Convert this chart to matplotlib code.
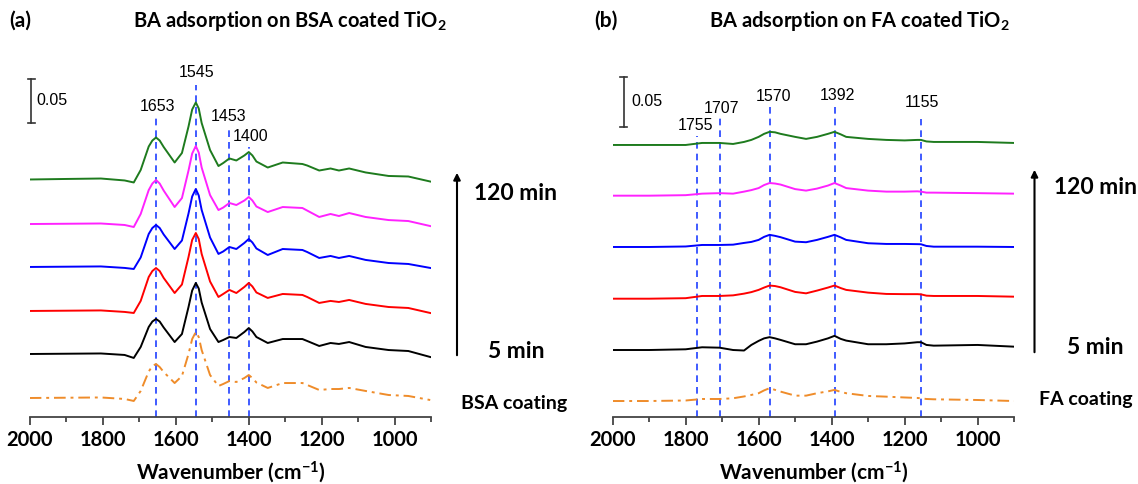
import matplotlib
matplotlib.use("Agg")
import matplotlib.pyplot as plt

plt.rcParams['font.family'] = ['Liberation Sans', 'DejaVu Sans']
plt.rcParams['mathtext.fontset'] = 'custom'
plt.rcParams['mathtext.rm'] = 'Lato:bold'
plt.rcParams['mathtext.default'] = 'regular'

# ---- panel (a): BA on BSA coated TiO2, relative absorbance in mAbs ----
wn_a = [2000, 1900, 1805, 1740, 1715, 1696, 1674, 1664, 1654, 1644, 1633, 1603, 1583,
        1565, 1555, 1545, 1537, 1529, 1506, 1483, 1470, 1453, 1434, 1412, 1400, 1390,
        1379, 1348, 1307, 1253, 1240, 1207, 1176, 1153, 1125, 1080, 1017, 963, 903]
green_a = [0, 0.6, 1.1, -1.1, -3.4, 10.8, 37.5, 44.3, 47.7, 44.3, 36.9, 19.3, 30.1, 60.2, 79.5,
           87.5, 80.7, 64.2, 33.5, 15.3, 18.7, 23.9, 21.6, 27.3, 31.2, 27.3, 20.4, 13.6, 19.3,
           17.6, 15.9, 10.2, 12.5, 10.2, 12.5, 8.0, 4.0, 3.4, -2.3]
magenta_a = [0, 0.3, 0.6, -1.1, -3.4, 11.4, 38.6, 46.0, 50.0, 46.0, 38.0, 19.3, 29.5, 60.8, 80.1,
             88.6, 81.2, 64.2, 32.9, 15.9, 18.7, 23.9, 21.6, 26.7, 30.7, 26.7, 19.9, 13.6, 19.3,
             18.2, 15.3, 8.0, 11.4, 9.1, 12.5, 8.0, 4.5, 3.4, -2.3]
blue_a = [0, 0.3, 0.6, -1.1, -2.3, 10.8, 37.5, 44.3, 47.7, 44.3, 36.9, 20.4, 30.1, 60.8, 80.1,
          88.6, 81.2, 64.8, 33.5, 14.8, 17.6, 22.7, 20.4, 27.3, 31.8, 27.8, 21.0, 13.6, 20.4,
          19.3, 17.0, 10.2, 12.5, 10.2, 12.5, 8.0, 4.5, 3.4, -1.1]
red_a = [0, 0.3, 0.6, -1.1, -2.3, 11.4, 38.6, 45.4, 48.8, 45.4, 37.5, 20.4, 30.1, 61.3, 80.7,
         88.6, 81.8, 64.8, 33.5, 15.9, 19.3, 23.9, 20.4, 27.3, 31.8, 27.8, 21.0, 14.8, 19.3,
         18.2, 15.9, 9.1, 11.4, 10.2, 12.5, 8.0, 4.5, 3.4, -2.3]
black_a = [0, 0.3, 0.6, -1.1, -4.5, 8.0, 30.7, 36.9, 39.8, 36.9, 30.1, 13.6, 22.7, 53.4, 72.1,
           80.7, 74.4, 58.5, 28.4, 13.6, 15.9, 19.3, 18.2, 25.0, 29.5, 25.6, 19.3, 12.5, 17.0,
           17.0, 14.8, 9.1, 12.5, 11.4, 13.6, 8.0, 4.5, 3.4, -3.4]
coat_a = [0, 0.3, 0.6, -1.1, -3.4, 8.0, 30.1, 36.3, 38.6, 35.2, 29.5, 17.0, 25.0, 50.0, 67.0,
          75.0, 69.3, 54.5, 26.1, 13.6, 15.9, 19.3, 18.2, 22.7, 26.1, 22.7, 17.6, 11.4, 17.0,
          17.0, 14.8, 9.1, 10.2, 10.2, 11.4, 8.0, 3.4, 2.3, -2.3]
offsets_a = [0.2699, 0.2193, 0.1705, 0.1205, 0.0716, 0.0216]
peaks_a = [1653, 1545, 1453, 1400]

# ---- panel (b): BA on FA coated TiO2 ----
wn_b = [2000, 1900, 1800, 1755, 1707, 1670, 1640, 1620, 1600, 1585, 1570, 1555, 1540, 1500,
        1470, 1440, 1410, 1392, 1375, 1360, 1300, 1250, 1200, 1165, 1155, 1140, 1120, 1000, 900]
green_b = [0, 0, 0, 2, 2, 1, 3, 5, 8, 11, 13, 12.5, 11, 8, 6, 8, 11, 13, 10.5, 8, 6, 5, 4.5, 5,
           5, 3.5, 3, 3, 2]
magenta_b = [0, 0, 0.5, 2, 2.5, 2, 4, 5.5, 7.5, 10.5, 12.5, 12, 11, 6.5, 5, 7, 10, 12.5, 10,
             7.5, 5, 4, 4, 4.3, 4, 3, 3, 2.5, 2]
blue_b = [0, 0, 0.5, 2, 2, 2.3, 4, 5, 7, 10, 12, 11, 9.7, 5.3, 4.7, 7, 10, 12, 9.5, 7, 3.7, 3,
          3, 2.8, 2.7, 1, 0.3, 0.3, 0]
red_b = [0, 0, 0.5, 2.7, 2.7, 3.3, 5, 6.5, 8.7, 11, 13, 12.5, 11.3, 6.7, 5.3, 8, 11, 13, 10.5,
         8.7, 6, 4.7, 4.5, 4.5, 4.3, 3, 2.7, 2.7, 2]
black_b = [0, 0, 0.7, 2.7, 2.3, 0, -0.5, 5, 9, 11.5, 12.7, 11.5, 10, 5.7, 5.7, 8.3, 11.5, 14, 11,
           9.3, 5.7, 5.7, 6.5, 7.7, 7.7, 5, 4.3, 5, 3.3]
coat_b = [0, 0, 0.5, 2, 2, 2.7, 4.5, 6, 7.7, 10.5, 12.7, 11, 9.3, 5.3, 5.3, 7.7, 9.5, 11, 9, 7.7,
          5, 4.3, 3.5, 3, 2.7, 2, 1.7, 1, 0]
offsets_b = [0.2688, 0.2187, 0.168, 0.1169, 0.0662, 0.0158]
peaks_b = [1768, 1707, 1570, 1392, 1155]

colors = ['#1e7b1e', '#ff22ff', '#0000ff', '#ff0000', '#000000', '#ef8c2a']
W, H = 1138, 484

fig = plt.figure(figsize=(W / 100, H / 100), dpi=100)


def fx(x):
    return x / W


def fy(y):
    return 1 - y / H


def setup(ax, ytop):
    ax.set_xlim(2000, 900)
    ax.set_ylim(0, ytop)
    for s in ['left', 'right', 'top']:
        ax.spines[s].set_visible(False)
    ax.spines['bottom'].set_color('#444444')
    ax.spines['bottom'].set_linewidth(1.3)
    ax.set_yticks([])
    ax.set_xticks([2000, 1800, 1600, 1400, 1200, 1000])
    ax.set_xticks([1900, 1700, 1500, 1300, 1100, 900], minor=True)
    ax.tick_params(axis='x', which='major', direction='out', length=6, width=1.3,
                   color='#444444', pad=3)
    ax.tick_params(axis='x', which='minor', direction='out', length=3.5, width=1.3,
                   color='#444444')
    for lab in ax.get_xticklabels():
        lab.set_fontfamily('Lato')
        lab.set_fontweight('bold')
        lab.set_fontsize(14.5)
    ax.set_xlabel('Wavenumber (cm$^{-1}$)', fontfamily='Lato', fontweight='bold',
                  fontsize=15, labelpad=7)


def draw(ax, wn, series, offsets):
    for i, (ys, off) in enumerate(zip(series, offsets)):
        yv = [off + v / 1000 for v in ys]
        if i == len(series) - 1:
            ax.plot(wn, yv, color=colors[i], lw=1.4, ls=(0, (6, 2.5, 1.5, 2.5)))
        else:
            ax.plot(wn, yv, color=colors[i], lw=1.4)


# axes from y=417 px to y=60 px
bottom = fy(417)
height = (417 - 60) / H
ax_a = fig.add_axes([fx(29.7), bottom, (431.3 - 29.7) / W, height])
ax_b = fig.add_axes([fx(612.7), bottom, (1014 - 612.7) / W, height])

ytop_a = 357 * 0.05 / 44
ytop_b = 357 * 0.05 / 50.6
setup(ax_a, ytop_a)
setup(ax_b, ytop_b)

draw(ax_a, wn_a, [green_a, magenta_a, blue_a, red_a, black_a, coat_a], offsets_a)
draw(ax_b, wn_b, [green_b, magenta_b, blue_b, red_b, black_b, coat_b], offsets_b)

dash_kw = dict(color='#1f3fff', lw=1.2, ls=(0, (4, 3)), zorder=1)

# panel a peak markers
line_top_a = [0.341, 0.377, 0.328, 0.307]
lab_x_a = [1651, 1542, 1455, 1395]
lab_y_a = [0.353, 0.391, 0.341, 0.319]
for p, t, lx, ly in zip(peaks_a, line_top_a, lab_x_a, lab_y_a):
    ax_a.plot([p, p], [0, t], **dash_kw)
    ax_a.text(lx, ly, str(p), ha='center', va='center', fontsize=11.5)

# panel b peak markers
labels_b = ['1755', '1707', '1570', '1392', '1155']
line_top_b = [0.2776, 0.295, 0.306, 0.31, 0.294]
lab_x_b = [1774, 1703, 1559, 1384, 1152]
lab_y_b = [0.288, 0.305, 0.3165, 0.318, 0.3105]
for p, t, lab, lx, ly in zip(peaks_b, line_top_b, labels_b, lab_x_b, lab_y_b):
    ax_b.plot([p, p], [0, t], **dash_kw)
    ax_b.text(lx, ly, lab, ha='center', va='center', fontsize=11.5)

# scale bars (0.05)
for ax, x0, y0, tx in [(ax_a, 1996, 0.3337, 1983), (ax_b, 1970, 0.2862, 1950)]:
    ax.plot([x0, x0], [y0, y0 + 0.05], color='#333333', lw=1.2, clip_on=False)
    ax.plot([x0 - 10, x0 + 10], [y0, y0], color='#333333', lw=1.2, clip_on=False)
    ax.plot([x0 - 10, x0 + 10], [y0 + 0.05, y0 + 0.05], color='#333333', lw=1.2, clip_on=False)
    ax.text(tx, y0 + 0.026, '0.05', ha='left', va='center', fontsize=11.5)

# titles
bold = dict(fontfamily='Lato', fontweight='bold')
fig.text(fx(9), fy(21), '(a)', ha='left', va='center', fontsize=15, **bold)
fig.text(fx(290), fy(21), 'BA adsorption on BSA coated TiO$_2$', ha='center', va='center',
         fontsize=14.5, **bold)
fig.text(fx(594), fy(21), '(b)', ha='left', va='center', fontsize=15, **bold)
fig.text(fx(859), fy(21), 'BA adsorption on FA coated TiO$_2$', ha='center', va='center',
         fontsize=14.5, **bold)

# time arrows and side labels
for xa, y1, y2, xc, y120, y5, xcoat, ycoat, coat in [
        (457, 358, 170, 516, 193, 352, 514, 403, 'BSA coating'),
        (1034.5, 355, 167, 1095, 188, 348, 1086, 399, 'FA coating')]:
    fig.add_artist(matplotlib.patches.FancyArrowPatch(
        (fx(xa), fy(y1)), (fx(xa), fy(y2)), transform=fig.transFigure,
        arrowstyle='-|>', mutation_scale=10, color='black', lw=1.5))
    fig.text(fx(xc), fy(y120), '120 min', ha='center', va='center', fontsize=16.5, **bold)
    fig.text(fx(xc), fy(y5), '5 min', ha='center', va='center', fontsize=16.5, **bold)
    fig.text(fx(xcoat), fy(ycoat), coat, ha='center', va='center', fontsize=14, **bold)

fig.savefig('out.png', dpi=100)
